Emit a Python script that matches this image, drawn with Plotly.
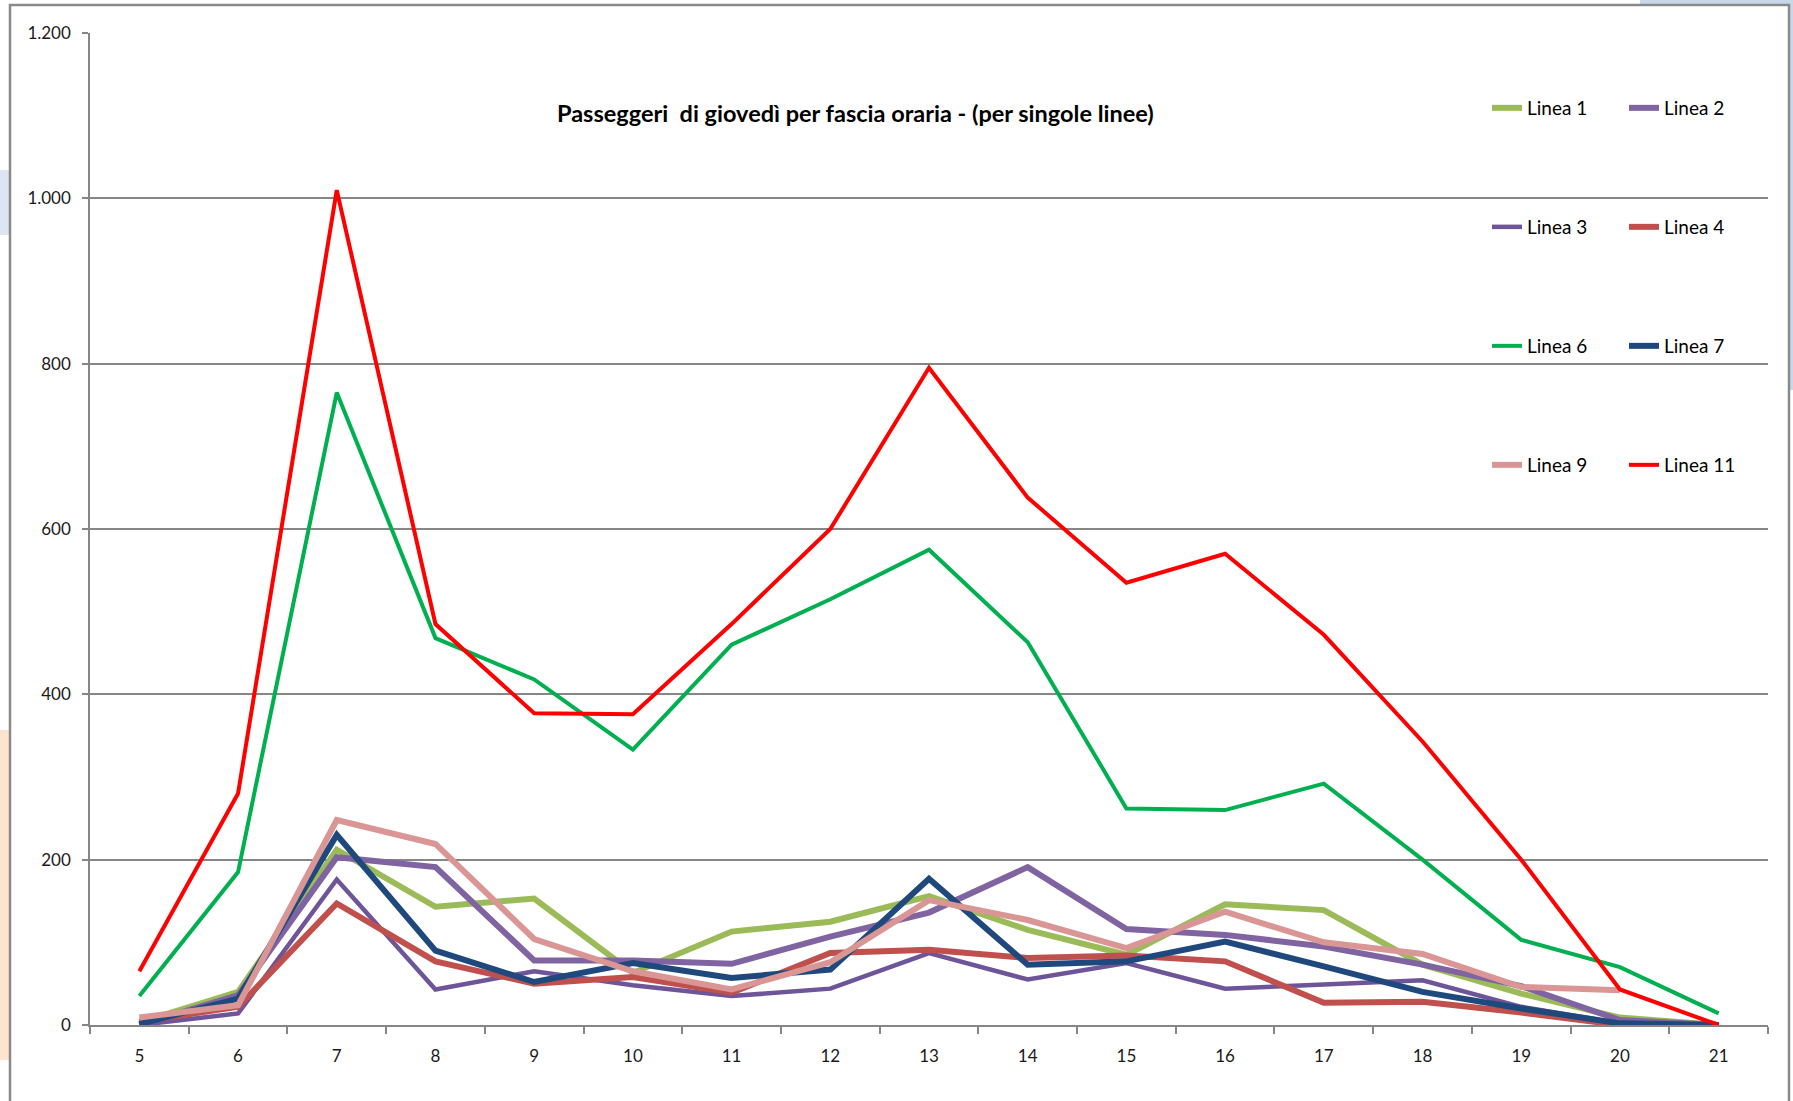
import plotly.graph_objects as go

hours = ["5", "6", "7", "8", "9", "10", "11", "12", "13", "14", "15", "16", "17", "18", "19", "20", "21"]

linea_1 = [3, 40, 212, 143, 153, 63, 113, 125, 156, 115, 85, 146, 139, 73, 38, 9, 0]
linea_2 = [0, 36, 203, 191, 78, 78, 74, 107, 136, 191, 116, 109, 95, 73, 47, 6, 0]
linea_3 = [0, 14, 176, 43, 65, 48, 35, 44, 87, 55, 75, 44, 49, 54, 22, 2, 0]
linea_4 = [4, 22, 147, 77, 50, 58, 39, 87, 91, 81, 84, 77, 27, 28, 15, 0, 0]
linea_6 = [35, 185, 765, 468, 418, 333, 460, 515, 575, 463, 262, 260, 292, 200, 103, 70, 14]
linea_7 = [1, 32, 230, 90, 52, 75, 57, 67, 177, 73, 77, 101, 71, 40, 20, 2, 0]
linea_9 = [9, 24, 248, 219, 104, 65, 43, 76, 151, 127, 93, 137, 100, 86, 46, 42, None]
linea_11 = [65, 280, 1010, 485, 377, 376, 485, 600, 795, 638, 535, 570, 472, 343, 200, 43, 0]

series = [
    ("Linea 1", linea_1, "#9BBB59", 6, "legend"),
    ("Linea 2", linea_2, "#8064A2", 6, "legend"),
    ("Linea 3", linea_3, "#6E5499", 4.5, "legend2"),
    ("Linea 4", linea_4, "#C0504D", 6, "legend2"),
    ("Linea 6", linea_6, "#00B050", 4, "legend3"),
    ("Linea 7", linea_7, "#1F497D", 6, "legend3"),
    ("Linea 9", linea_9, "#D99694", 6, "legend4"),
    ("Linea 11", linea_11, "#FF0000", 4, "legend4"),
]

FONT = "Lato, Liberation Sans Narrow, sans-serif"

fig = go.Figure()
for name, vals, color, width, leg in series:
    fig.add_trace(go.Scatter(
        x=hours, y=vals, name=name, mode="lines",
        line=dict(color=color, width=width),
        legend=leg, connectgaps=False,
    ))

FIG_W, FIG_H = 1793, 1101
# plot area in page pixels
X0, X1, YT, YB = 90, 1768, 33, 1025
W, H = X1 - X0, YB - YT
def px(x):
    return (x - X0) / W
def py(y):
    return (YB - y) / H

legend_rows = [108, 227, 346, 465]
common_leg = dict(
    orientation="h", xanchor="left", yanchor="middle", x=px(1487),
    font=dict(family=FONT, size=19, color="#000000"),
    entrywidth=92, entrywidthmode="pixels", bgcolor="rgba(0,0,0,0)",
    itemwidth=30, tracegroupgap=0,
)

shapes = [
    # decorative background hints outside the chart frame
    dict(type="rect", xref="paper", yref="paper", x0=px(0), x1=px(10), y0=py(1060), y1=py(730),
         fillcolor="#FCE4CF", line=dict(width=0), layer="below"),
    dict(type="rect", xref="paper", yref="paper", x0=px(0), x1=px(10), y0=py(235), y1=py(170),
         fillcolor="#DCE5F1", line=dict(width=0), layer="below"),
    dict(type="rect", xref="paper", yref="paper", x0=px(1640), x1=px(1793), y0=py(6), y1=py(0),
         fillcolor="#C9D7EA", line=dict(width=0), layer="below"),
    dict(type="rect", xref="paper", yref="paper", x0=px(1789), x1=px(1793), y0=py(390), y1=py(0),
         fillcolor="#C9D7EA", line=dict(width=0), layer="below"),
    # chart frame
    dict(type="rect", xref="paper", yref="paper", x0=px(10), x1=px(1789), y0=py(1120), y1=py(5),
         fillcolor="white", line=dict(color="#8A8A8A", width=2.5), layer="below"),
]

layout_legends = {}
for i, yrow in enumerate(legend_rows):
    key = "legend" if i == 0 else f"legend{i+1}"
    layout_legends[key] = dict(common_leg, y=py(yrow))

fig.update_layout(
    width=FIG_W, height=FIG_H,
    margin=dict(l=X0, r=FIG_W - X1, t=YT, b=FIG_H - YB, autoexpand=False),
    paper_bgcolor="white", plot_bgcolor="rgba(0,0,0,0)",
    separators=",.",
    font=dict(family=FONT, size=16, color="#1a1a1a"),
    showlegend=True,
    shapes=shapes,
    annotations=[dict(
        text="<b>Passeggeri\u00a0 di giovedì per fascia oraria - (per singole linee)</b>",
        xref="paper", yref="paper", x=px(855), y=py(113), xanchor="center", yanchor="middle",
        showarrow=False, font=dict(family=FONT, size=23.5, color="#000000"),
    )],
    xaxis=dict(
        type="category", range=[-0.5, 16.5], showgrid=False,
        showline=True, linecolor="#868686", linewidth=2,
        ticks="outside", tickson="boundaries", ticklen=7, tickcolor="#868686", tickwidth=1.5,
        ticklabelstandoff=15, tickfont=dict(family=FONT, size=17, color="#1a1a1a"),
        zeroline=False,
    ),
    yaxis=dict(
        range=[0, 1200], dtick=200, tickformat=",d",
        showgrid=True, gridcolor="#868686", gridwidth=1.5,
        showline=True, linecolor="#868686", linewidth=1.5,
        ticks="outside", ticklen=6, tickcolor="#868686", tickwidth=1.5,
        ticklabelstandoff=8, tickfont=dict(family=FONT, size=17, color="#1a1a1a"),
        zeroline=False,
    ),
    **layout_legends,
)

fig.write_html(
    "out.html",
    config={"displayModeBar": False},
    post_script="document.body.style.margin='0';document.body.style.overflow='hidden';",
)
